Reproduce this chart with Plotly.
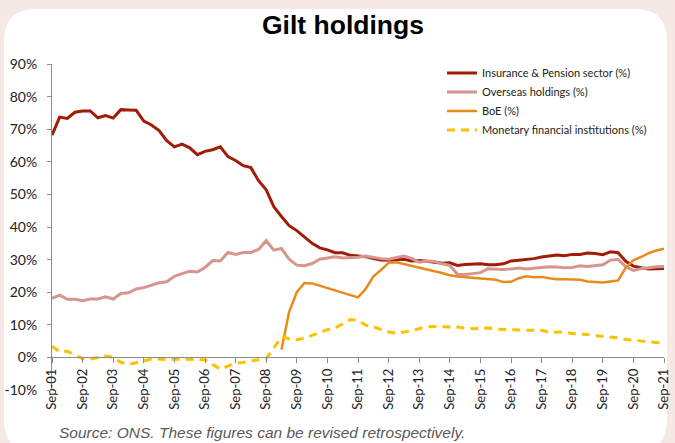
import plotly.graph_objects as go

# quarterly, Sep-01 .. Sep-21
months = ["Sep", "Dec", "Mar", "Jun"]
quarters = [f"{months[i % 4]}-{(1 + (i + 2) // 4):02d}" for i in range(81)]
tick_labels = quarters[::4]

y_ticks = [-10, 0, 10, 20, 30, 40, 50, 60, 70, 80, 90]
y_tick_text = ["-10%", "0%", "10%", "20%", "30%", "40%", "50%", "60%", "70%", "80%", "90%"]

insurance = [68.2, 73.7, 73.3, 75.2, 75.6, 75.6, 73.5, 74.2, 73.4, 76.0,
             75.9, 75.8, 72.5, 71.3, 69.6, 66.5, 64.6, 65.4, 64.3, 62.2,
             63.2, 63.7, 64.6, 61.6, 60.4, 58.8, 58.2, 54.2, 51.4, 46.2,
             43.2, 40.4, 38.9, 37.0, 35.0, 33.6, 33.0, 32.1, 32.1, 31.3,
             31.2, 30.9, 30.3, 29.9, 29.8, 30.0, 30.1, 29.6, 29.7, 29.5,
             29.3, 28.9, 29.0, 28.2, 28.5, 28.6, 28.7, 28.4, 28.4, 28.7,
             29.6, 29.8, 30.0, 30.3, 30.8, 31.1, 31.4, 31.2, 31.6, 31.6,
             32.0, 31.9, 31.5, 32.4, 32.1, 29.5, 28.0, 27.5, 27.1, 27.2,
             27.3]

overseas = [18.1, 19.1, 17.8, 17.8, 17.4, 17.9, 17.9, 18.6, 17.9, 19.6,
            19.8, 21.0, 21.4, 22.1, 22.9, 23.2, 24.9, 25.7, 26.4, 26.2,
            27.6, 29.7, 29.6, 32.2, 31.6, 32.2, 32.2, 33.1, 35.8, 32.9,
            33.4, 30.1, 28.3, 28.1, 28.8, 30.1, 30.5, 30.9, 30.5, 30.5,
            30.7, 31.1, 30.6, 30.3, 30.1, 30.6, 31.1, 30.4, 29.2, 29.6,
            29.4, 28.7, 28.2, 25.5, 25.4, 25.7, 26.0, 27.2, 27.0, 27.0,
            27.1, 27.4, 27.1, 27.3, 27.6, 27.8, 27.7, 27.5, 27.6, 28.1,
            27.9, 28.1, 28.4, 29.8, 30.1, 27.8, 26.7, 27.2, 27.6, 27.8,
            27.9]

boe = [None] * 30 + [
    2.4, 14.0, 20.0, 22.8, 22.7, 22.0, 21.2, 20.4, 19.8, 19.0,
    18.4, 21.0, 24.8, 26.8, 29.0, 29.2, 28.6, 28.0, 27.5, 26.8,
    26.4, 25.9, 25.2, 24.8, 24.6, 24.2, 24.1, 24.0, 23.8, 23.1,
    23.2, 24.3, 24.9, 24.6, 24.7, 24.3, 24.0, 24.0, 24.0, 23.8,
    23.3, 23.2, 23.0, 23.3, 23.6, 27.5, 29.8, 30.8, 32.0, 32.8,
    33.3]

mfi = [3.4, 1.7, 1.9, 0.8, -0.4, -0.5, 0.0, 0.4, 0.0, -1.5,
       -2.2, -1.7, -1.1, -0.5, -0.5, -0.7, -0.5, -0.6, -0.6, -0.6,
       -0.7, -2.2, -3.6, -2.7, -1.8, -1.5, -1.0, -0.7, -0.4, 2.8,
       6.3, 5.7, 5.4, 5.9, 6.8, 7.8, 8.5, 9.0, 10.2, 11.6,
       11.4, 9.9, 9.4, 8.6, 7.8, 7.4, 7.7, 8.2, 8.8, 9.4,
       9.5, 9.5, 9.4, 9.3, 9.0, 8.8, 8.9, 9.0, 8.7, 8.5,
       8.5, 8.4, 8.3, 8.3, 8.3, 7.7, 7.8, 7.8, 7.3, 7.2,
       7.0, 6.7, 6.5, 6.3, 6.0, 5.5, 5.2, 4.9, 4.8, 4.6,
       4.5]

W, H = 675, 443
ML, MR, MT, MB = 52, 11, 64, 53
PW, PH = W - ML - MR, H - MT - MB


def px_x(x):
    return (x - ML) / PW


def px_y(y):
    return (H - MB - y) / PH


def rounded_box(x0, y0, x1, y1, r):
    # rounded rectangle in paper coords, from pixel values
    pts = [
        f"M {px_x(x0 + r)},{px_y(y0)}",
        f"L {px_x(x1 - r)},{px_y(y0)}",
        f"Q {px_x(x1)},{px_y(y0)} {px_x(x1)},{px_y(y0 + r)}",
        f"L {px_x(x1)},{px_y(y1 - r)}",
        f"Q {px_x(x1)},{px_y(y1)} {px_x(x1 - r)},{px_y(y1)}",
        f"L {px_x(x0 + r)},{px_y(y1)}",
        f"Q {px_x(x0)},{px_y(y1)} {px_x(x0)},{px_y(y1 - r)}",
        f"L {px_x(x0)},{px_y(y0 + r)}",
        f"Q {px_x(x0)},{px_y(y0)} {px_x(x0 + r)},{px_y(y0)}",
        "Z",
    ]
    return " ".join(pts)


fig = go.Figure()

fig.add_trace(go.Scatter(x=quarters, y=insurance, mode="lines",
                         name="Insurance & Pension sector (%)",
                         line=dict(color="#A01C06", width=3)))
fig.add_trace(go.Scatter(x=quarters, y=overseas, mode="lines",
                         name="Overseas holdings (%)",
                         line=dict(color="#D8958D", width=3)))
fig.add_trace(go.Scatter(x=quarters, y=boe, mode="lines",
                         name="BoE (%)",
                         line=dict(color="#E98A1C", width=2.5)))
fig.add_trace(go.Scatter(x=quarters, y=mfi, mode="lines",
                         name="Monetary financial institutions (%)",
                         line=dict(color="#FFC000", width=3, dash="8px,6px")))

fig.add_shape(type="path", xref="paper", yref="paper", layer="below",
              path=rounded_box(4, 9, 667, 452, 32),
              fillcolor="white", line=dict(width=0))

fig.add_annotation(text="<b>Gilt holdings</b>", xref="paper", yref="paper",
                   x=px_x(343), y=px_y(25), xanchor="center", yanchor="middle",
                   showarrow=False,
                   font=dict(family="Liberation Sans, Arial", size=26.5, color="black"))
fig.add_annotation(text="<i>Source: ONS. These figures can be revised retrospectively.</i>",
                   xref="paper", yref="paper", x=px_x(57), y=px_y(432),
                   xanchor="left", yanchor="middle", showarrow=False,
                   font=dict(family="Liberation Sans, Arial", size=15.5, color="#595959"))

fig.update_layout(
    width=W, height=H,
    margin=dict(l=ML, r=MR, t=MT, b=MB, autoexpand=False),
    paper_bgcolor="#F5E8E5",
    plot_bgcolor="rgba(0,0,0,0)",
    font=dict(family="Lato, Calibri, sans-serif", size=13, color="#222222"),
    showlegend=True,
    legend=dict(x=px_x(442), y=px_y(58.5), xanchor="left", yanchor="top",
                bgcolor="rgba(0,0,0,0)", tracegroupgap=0,
                font=dict(family="Lato, Calibri, sans-serif", size=11, color="#222222")),
    xaxis=dict(type="category", range=[0, 80], tickmode="array",
               tickvals=tick_labels, ticktext=tick_labels, tickangle=-90,
               anchor="free", position=0.1, showline=True, linecolor="#8C8C8C",
               linewidth=1, ticks="outside", ticklen=5, tickcolor="#8C8C8C",
               showgrid=False, zeroline=False, automargin=False,
               tickfont=dict(size=13)),
    yaxis=dict(range=[-10, 90], tickmode="array", tickvals=y_ticks, ticktext=y_tick_text,
               showgrid=False, zeroline=False, showline=True, linecolor="#8C8C8C",
               linewidth=1, ticks="outside", ticklen=4, tickcolor="#8C8C8C",
               ticklabelstandoff=7, automargin=False, tickfont=dict(size=14)),
)

fig.write_html("out.html", config={"displayModeBar": False},
               post_script="document.body.style.margin='0px';")
